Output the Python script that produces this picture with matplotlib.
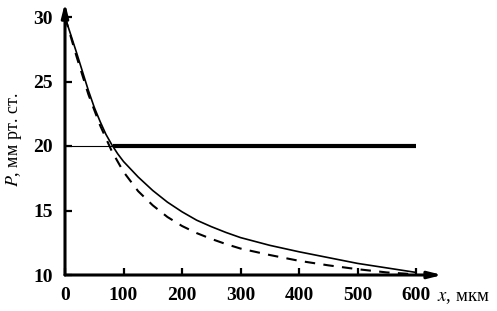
import matplotlib
matplotlib.use("Agg")
import matplotlib.pyplot as plt

x_um = [0, 20, 40, 50, 60, 70, 80, 90, 100, 125, 150, 175, 200, 225, 250, 275, 300, 350, 400, 450, 500, 550, 600]
p_solid = [30, 27.2, 24.3, 23.0, 21.9, 20.9, 20.1, 19.4, 18.8, 17.6, 16.55, 15.65, 14.9, 14.25, 13.75, 13.3, 12.9,
           12.3, 11.8, 11.35, 10.9, 10.55, 10.2]
x_dash = [0, 20, 40, 60, 80, 100, 125, 150, 175, 200, 225, 250, 275, 300, 350, 400, 450, 500, 550, 600]
p_dashed = [30, 26.9, 24.0, 21.6, 19.6, 18.0, 16.5, 15.4, 14.5, 13.8, 13.25, 12.8, 12.4, 12.05, 11.55, 11.1,
            10.75, 10.45, 10.2, 10.05]
level_x_thin = [0, 82]
level_x_thick = [82, 600]
level_p = 20
x_ticks = [0, 100, 200, 300, 400, 500, 600]
y_ticks = [10, 15, 20, 25, 30]

plt.rcParams['font.family'] = ['Liberation Serif', 'DejaVu Serif']
W, H = 497, 311
fig = plt.figure(figsize=(W / 100, H / 100), dpi=100)
ax = fig.add_axes([65 / W, 1 - 275 / H, 351 / W, 258 / H])
ax.set_xlim(0, 600)
ax.set_ylim(10, 30)

ax.plot(x_um, p_solid, color='black', lw=1.2)
ax.plot(x_dash, p_dashed, color='black', lw=1.5, dashes=(5, 4))
ax.plot(level_x_thin, [level_p, level_p], color='black', lw=0.8)
ax.plot(level_x_thick, [level_p, level_p], color='black', lw=3.0, solid_capstyle='butt')

for s in ax.spines.values():
    s.set_visible(False)
ax.annotate('', xy=(645, 10), xytext=(0, 10), xycoords='data', annotation_clip=False,
            arrowprops=dict(arrowstyle='-|>,head_length=0.8,head_width=0.2', color='black', lw=2.2, shrinkA=0, shrinkB=0))
ax.annotate('', xy=(0, 31.1), xytext=(0, 10), xycoords='data', annotation_clip=False,
            arrowprops=dict(arrowstyle='-|>,head_length=0.8,head_width=0.2', color='black', lw=2.2, shrinkA=0, shrinkB=0))

ax.set_xticks(x_ticks)
ax.set_yticks(y_ticks)
ax.set_xticklabels([str(v) for v in x_ticks], fontweight='bold')
ax.set_yticklabels([str(v) for v in y_ticks], fontweight='bold')
ax.tick_params(axis='both', direction='in', length=5, width=1.6, labelsize=14, color='black')
ax.tick_params(axis='x', pad=9)
ax.tick_params(axis='y', pad=9)
ax.patch.set_alpha(0)

fig.text(14 / W, 1 - 140 / H, r'$P$, мм рт. ст.', rotation=90, ha='center', va='center', fontsize=13,
         math_fontfamily='stix')
fig.text(437 / W, 1 - 297 / H, r'$x$, мкм', ha='left', va='center', fontsize=13.5, math_fontfamily='stix')

fig.savefig('out.png', dpi=100)
